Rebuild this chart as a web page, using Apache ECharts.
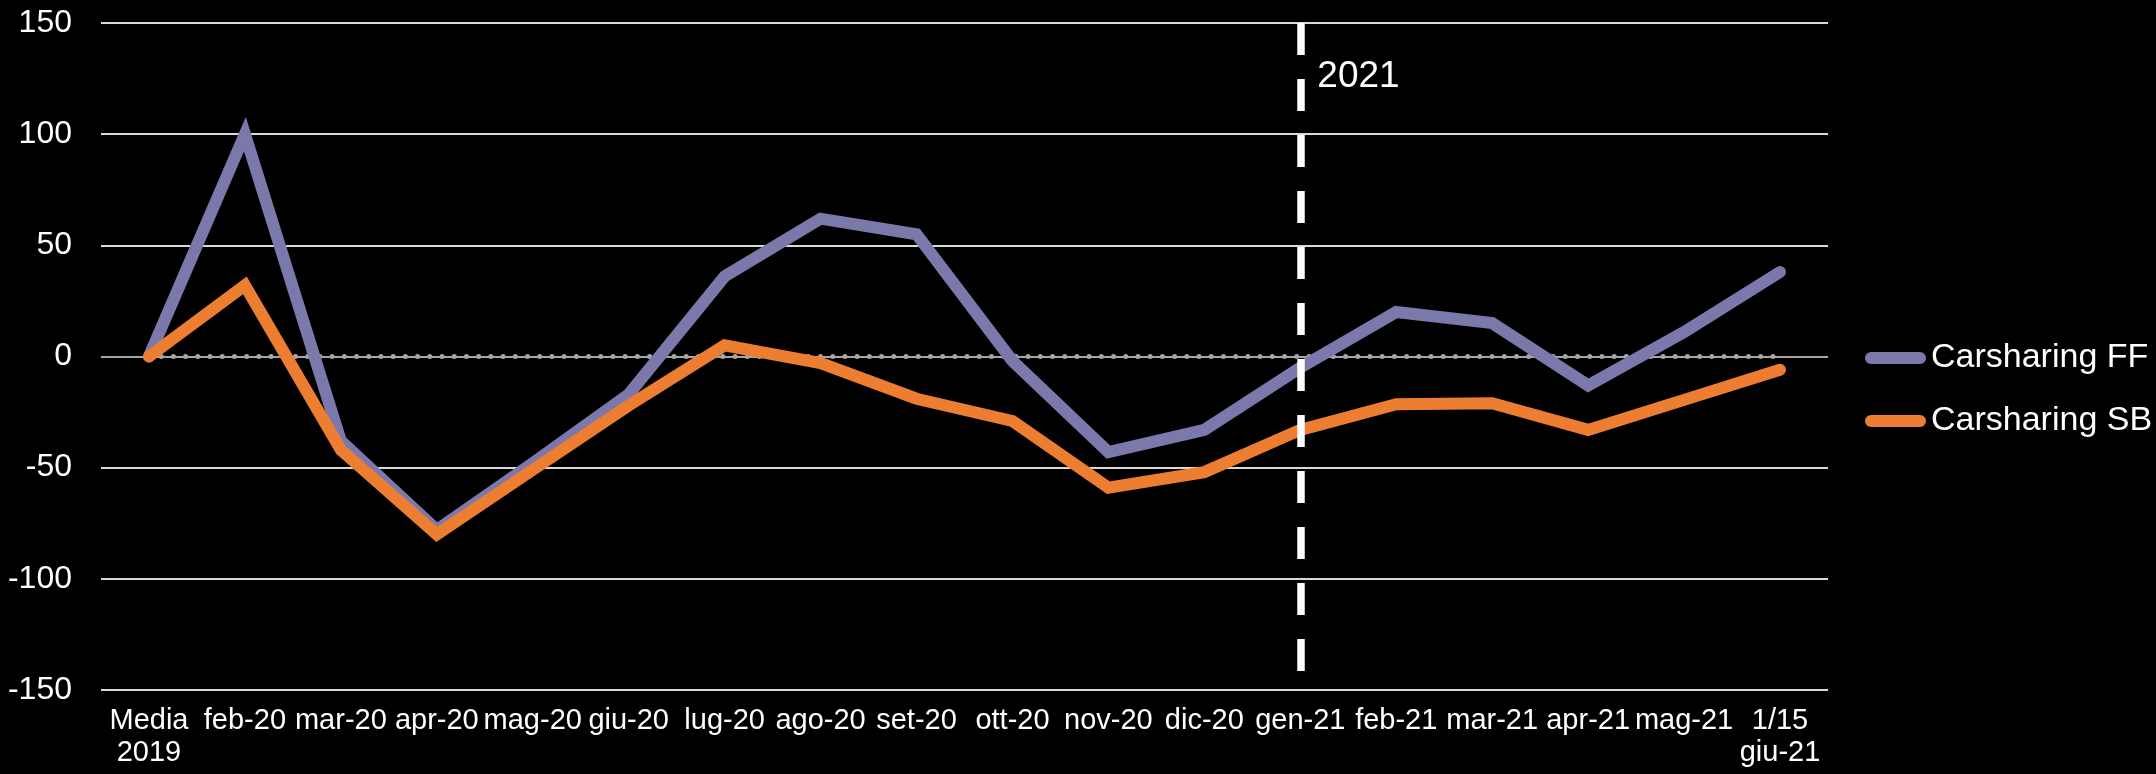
<!DOCTYPE html>
<html>
<head>
<meta charset="utf-8">
<script src="https://cdn.jsdelivr.net/npm/echarts@6/dist/echarts.min.js"></script>
<style>
html,body{margin:0;padding:0;background:#000;}
#chart{width:2156px;height:774px;}
</style>
</head>
<body>
<div id="chart"></div>
<script>
var categories = ['Media\n2019','feb-20','mar-20','apr-20','mag-20','giu-20','lug-20','ago-20','set-20','ott-20','nov-20','dic-20','gen-21','feb-21','mar-21','apr-21','mag-21','1/15\ngiu-21'];
var carsharingFF = [0, 100, -38, -78, -48, -17, 36, 62, 55, -2, -43, -33, -5, 20, 15, -13, 11, 38];
var carsharingSB = [0, 32, -42, -80, -51, -22, 5, -3, -19, -29, -59, -52, -33, -21.5, -21, -33, -19.5, -6];
var zeroLine = [0, 0, 0, 0, 0, 0, 0, 0, 0, 0, 0, 0, 0, 0, 0, 0, 0, 0];
var yTicks = [-150, -100, -50, 0, 50, 100, 150];
var yearMarkerIndex = 12;
var yearMarkerLabel = '2021';
var yearMarkerRange = [150, -150];
var yearLabelValue = 126;

var chart = echarts.init(document.getElementById('chart'), null, {renderer: 'canvas'});
var FONT = '"Liberation Sans", Arial, sans-serif';
var gridColors = yTicks.map(function (v) { return v === 0 ? '#a6a6a6' : '#d9d9d9'; });

chart.setOption({
  backgroundColor: '#000000',
  animation: false,
  grid: {left: 101, right: 328, top: 23, bottom: 84, containLabel: false},
  legend: {
    data: ['Carsharing FF', 'Carsharing SB'],
    orient: 'vertical',
    left: 1860,
    top: 333,
    itemWidth: 61,
    itemHeight: 12,
    itemGap: 23,
    icon: 'path://M6,0 L55,0 A6,6 0 0 1 55,12 L6,12 A6,6 0 0 1 6,0 Z',
    textStyle: {color: '#ffffff', fontSize: 34, fontFamily: FONT, lineHeight: 40}
  },
  xAxis: {
    type: 'category',
    data: categories,
    boundaryGap: true,
    axisLine: {show: false},
    axisTick: {show: false},
    splitLine: {show: false},
    axisLabel: {color: '#ffffff', fontSize: 29, fontFamily: FONT, lineHeight: 32, margin: 15, interval: 0, align: 'center'}
  },
  yAxis: {
    type: 'value',
    min: -150,
    max: 150,
    interval: 50,
    axisLine: {show: false},
    axisTick: {show: false},
    axisLabel: {color: '#ffffff', fontSize: 32, fontFamily: FONT, margin: 29},
    splitLine: {show: true, lineStyle: {color: gridColors, width: 2}}
  },
  series: [
    {
      name: 'zero',
      type: 'line',
      data: zeroLine,
      showSymbol: false,
      silent: true,
      z: 1,
      lineStyle: {color: '#a6a6a6', width: 5, type: [0.01, 12.2], cap: 'round'}
    },
    {
      name: 'Carsharing FF',
      type: 'line',
      data: carsharingFF,
      showSymbol: false,
      z: 3,
      lineStyle: {color: '#7b78ab', width: 12, cap: 'round', join: 'miter'},
      itemStyle: {color: '#7b78ab'},
      markLine: {
        silent: true,
        symbol: ['none', 'none'],
        label: {show: false},
        lineStyle: {color: '#ffffff', width: 7.5, type: [32, 24], cap: 'butt'},
        data: [[{coord: [yearMarkerIndex, yearMarkerRange[0]]}, {coord: [yearMarkerIndex, yearMarkerRange[1]]}]]
      }
    },
    {
      name: 'Carsharing SB',
      type: 'line',
      data: carsharingSB,
      showSymbol: false,
      z: 4,
      lineStyle: {color: '#ed7d31', width: 12, cap: 'round', join: 'miter'},
      itemStyle: {color: '#ed7d31'}
    },
    {
      name: 'year',
      type: 'scatter',
      data: [[yearMarkerIndex, yearLabelValue]],
      symbolSize: 0,
      silent: true,
      z: 5,
      itemStyle: {opacity: 1, color: '#ffffff'},
      label: {show: true, formatter: yearMarkerLabel, position: 'right', distance: 17, color: '#ffffff', fontSize: 37, fontFamily: FONT, opacity: 1}
    }
  ]
});
</script>
</body>
</html>
